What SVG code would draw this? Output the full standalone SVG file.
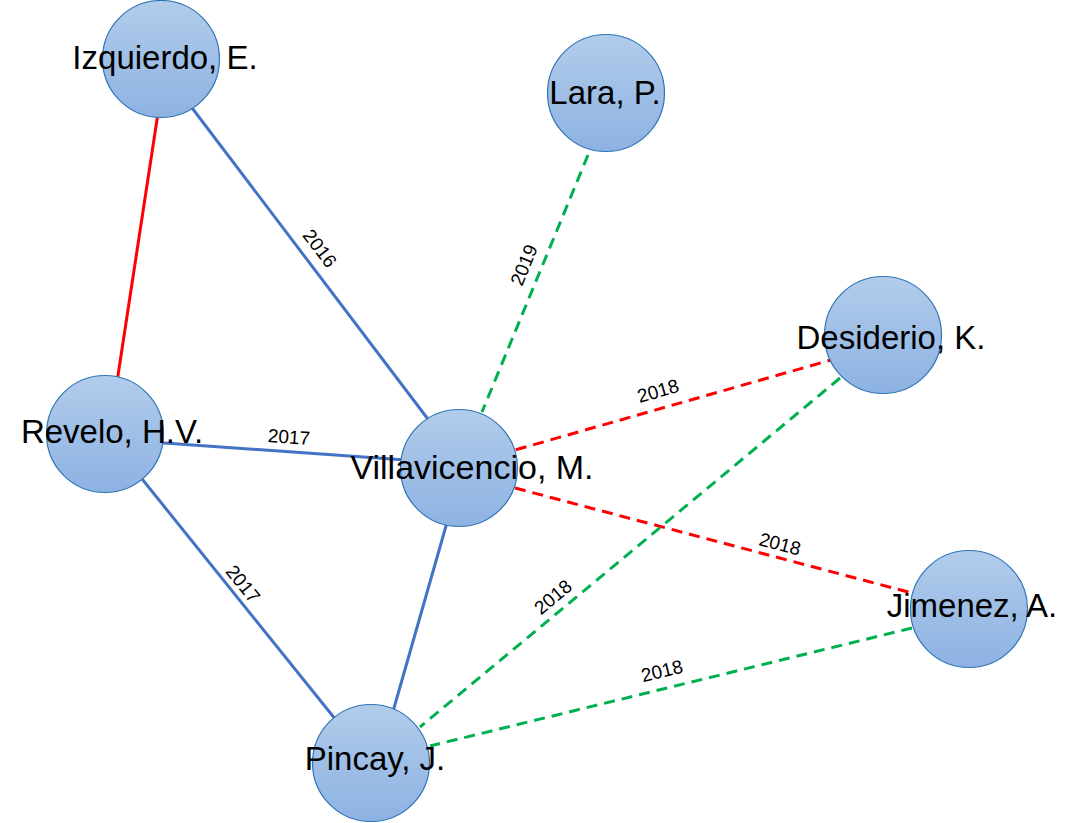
<svg xmlns="http://www.w3.org/2000/svg" width="1080" height="823" viewBox="0 0 1080 823">
<defs>
<linearGradient id="g" x1="0" y1="0" x2="0" y2="1">
<stop offset="0" stop-color="#B2CCEB"/>
<stop offset="1" stop-color="#8DB2E2"/>
</linearGradient>
<style>
.n{fill:url(#g);stroke:#2E75B6;stroke-width:1.2}
.t{font-family:"Liberation Sans",Arial,sans-serif;font-size:33px;fill:#000;text-anchor:middle}
.e{fill:none;stroke-width:3}
.b{stroke:#4472C4}
.r{stroke:#FF0000}
.gr{stroke:#00B050}
.d{stroke-dasharray:11 7}
.l{font-family:"Liberation Sans",Arial,sans-serif;font-size:19px;fill:#000;text-anchor:middle;dominant-baseline:central}
</style>
</defs>
<rect width="1080" height="823" fill="#fff"/>
<g id="connectors">
<line class="e r" x1="160" y1="100" x2="115" y2="395"/>
<line class="e b" x1="180" y1="92" x2="440" y2="435"/>
<line class="e gr d" x1="588" y1="155" x2="482" y2="412"/>
<line class="e r d" x1="838" y1="358" x2="515" y2="450"/>
<line class="e r d" x1="515" y1="488" x2="912" y2="593"/>
<line class="e b" x1="150" y1="442" x2="420" y2="461"/>
<line class="e b" x1="130" y1="464" x2="340" y2="725"/>
<line class="e b" x1="450" y1="512" x2="390" y2="722"/>
<line class="e gr d" x1="840" y1="378" x2="420" y2="727"/>
<line class="e gr d" x1="912" y1="628" x2="430" y2="746"/>
<text class="l" transform="translate(319,249) rotate(52.5)" dy="-1">2016</text>
<text class="l" transform="translate(524,265) rotate(-67.6)">2019</text>
<text class="l" transform="translate(658,391) rotate(-16)">2018</text>
<text class="l" transform="translate(289,437) rotate(4)">2017</text>
<text class="l" transform="translate(780,544) rotate(14.8)">2018</text>
<text class="l" transform="translate(243,584) rotate(51)">2017</text>
<text class="l" transform="translate(553,597) rotate(-39.7)">2018</text>
<text class="l" transform="translate(662,671) rotate(-13.8)">2018</text>
</g>
<g id="izquierdo"><circle class="n" cx="161" cy="59" r="58.5"/><text class="t" x="165" y="69">Izquierdo, E.</text></g>
<g id="lara"><circle class="n" cx="606" cy="93" r="58.5"/><text class="t" x="605" y="104">Lara, P.</text></g>
<g id="desiderio"><circle class="n" cx="883" cy="335" r="58.5"/><text class="t" x="891" y="349">Desiderio, K.</text></g>
<g id="revelo"><circle class="n" cx="105" cy="434" r="58.5"/><text class="t" x="112" y="443">Revelo, H.V.</text></g>
<g id="villavicencio"><circle class="n" cx="459" cy="468" r="58.5"/><text class="t" x="472" y="479" style="font-size:34px">Villavicencio, M.</text></g>
<g id="jimenez"><circle class="n" cx="969" cy="609" r="58.5"/><text class="t" x="972" y="617">Jimenez, A.</text></g>
<g id="pincay"><circle class="n" cx="371" cy="763" r="58.5"/><text class="t" x="375" y="770">Pincay, J.</text></g>
</svg>
